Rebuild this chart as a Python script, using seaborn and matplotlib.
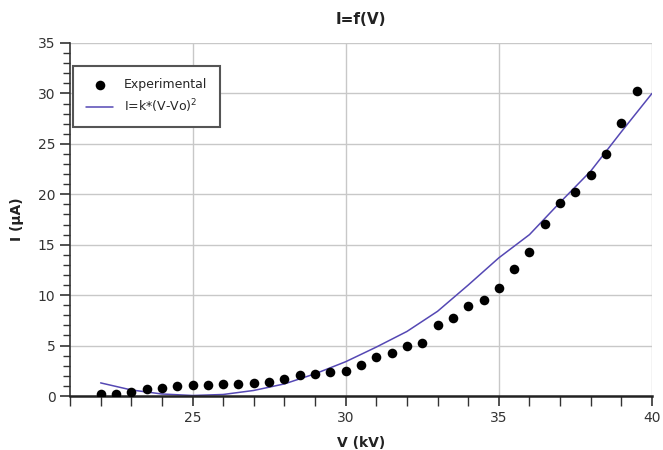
import numpy as np
import pandas as pd
import matplotlib
matplotlib.use("Agg")
import matplotlib.pyplot as plt
from matplotlib.ticker import MultipleLocator
import seaborn as sns

# Experimental data
v_exp = [22.0, 22.5, 23.0, 23.5, 24.0, 24.5, 25.0, 25.5, 26.0, 26.5, 27.0, 27.5,
         28.0, 28.5, 29.0, 29.5, 30.0, 30.5, 31.0, 31.5, 32.0, 32.5, 33.0, 33.5,
         34.0, 34.5, 35.0, 35.5, 36.0, 36.5, 37.0, 37.5, 38.0, 38.5, 39.0, 39.5]
i_exp = [0.2, 0.2, 0.4, 0.65, 0.8, 0.95, 1.05, 1.05, 1.15, 1.15, 1.3, 1.4,
         1.7, 2.1, 2.2, 2.4, 2.5, 3.05, 3.85, 4.25, 5.0, 5.3, 7.0, 7.7,
         8.9, 9.5, 10.7, 12.6, 14.3, 17.1, 19.1, 20.2, 21.9, 24.0, 27.1, 30.2]

# Fitted curve I = k*(V-Vo)^2
v_fit = [22, 23, 24, 25, 26, 27, 28, 29, 30, 31, 32, 33, 34, 35, 36, 37, 38, 39, 40]
i_fit = [1.3, 0.6, 0.2, 0.05, 0.15, 0.55, 1.2, 2.2, 3.4, 4.85, 6.4, 8.4, 11.0,
         13.7, 16.0, 19.2, 22.3, 26.2, 30.0]

df_exp = pd.DataFrame({"V": v_exp, "I": i_exp})
df_fit = pd.DataFrame({"V": v_fit, "I": i_fit})

sns.set_style("white")
plt.rcParams['font.family'] = ['DejaVu Sans']

fig = plt.figure(figsize=(6.63, 4.5), dpi=100)
ax = fig.add_axes([70/663, 1 - 396/450, 582/663, 353/450])

sns.lineplot(data=df_fit, x="V", y="I", ax=ax, color="#5548b4", linewidth=1.1,
             label=r"I=k*(V-Vo)$^2$", zorder=2)
sns.scatterplot(data=df_exp, x="V", y="I", ax=ax, color="black", s=48,
                edgecolor="black", linewidth=0, label="Experimental", zorder=3)

ax.set_xlim(21, 40)
ax.set_ylim(0, 35)
ax.xaxis.set_major_locator(MultipleLocator(5))
ax.xaxis.set_minor_locator(MultipleLocator(1))
ax.yaxis.set_major_locator(MultipleLocator(5))
ax.yaxis.set_minor_locator(MultipleLocator(1))

ax.grid(True, which="major", color="#c8c8c8", linewidth=1.0)
ax.set_axisbelow(True)

for s in ["top", "right"]:
    ax.spines[s].set_visible(False)
ax.spines["left"].set_color("#333333")
ax.spines["left"].set_linewidth(1.2)
ax.spines["bottom"].set_color("#222222")
ax.spines["bottom"].set_linewidth(1.8)

ax.tick_params(axis="both", which="both", bottom=True, left=True, top=False, right=False)
ax.tick_params(axis="both", which="major", direction="out", length=7, width=1.2,
               color="#333333", labelsize=10, labelcolor="#333333")
ax.tick_params(axis="both", which="minor", direction="out", length=5, width=1.0,
               color="#333333")
ax.tick_params(axis="x", which="both", length=7)

ax.set_title("I=f(V)", fontsize=11, fontweight="bold", color="#222222", pad=14)
ax.set_xlabel("V (kV)", fontsize=10, fontweight="bold", color="#222222", labelpad=8)
ax.set_ylabel("I (µA)", fontsize=10, fontweight="bold", color="#222222", labelpad=10)

handles, labels = ax.get_legend_handles_labels()
order = [labels.index("Experimental"), labels.index(r"I=k*(V-Vo)$^2$")]
leg = ax.legend([handles[i] for i in order], [labels[i] for i in order],
                loc="upper left", bbox_to_anchor=(0.006, 0.935), borderaxespad=0,
                fontsize=9, frameon=True, fancybox=False, edgecolor="#555555",
                framealpha=1, borderpad=1.0, handlelength=2.2, labelspacing=0.45,
                handletextpad=0.85)
leg.get_frame().set_linewidth(1.5)

fig.savefig("out.png", dpi=100)
